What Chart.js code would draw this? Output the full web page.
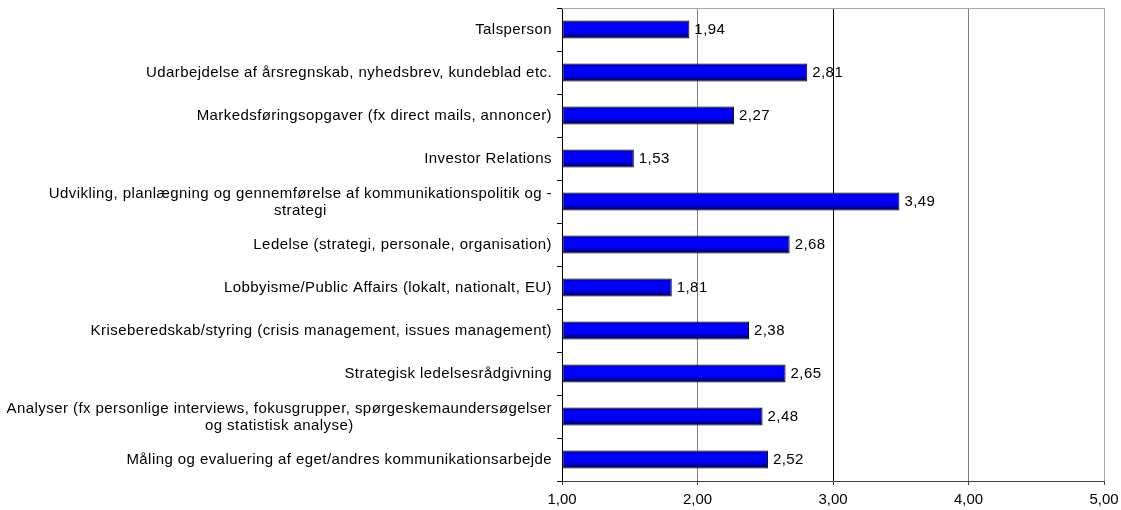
<!DOCTYPE html>
<html>
<head>
<meta charset="utf-8">
<script src="https://cdn.jsdelivr.net/npm/chart.js@4/dist/chart.umd.min.js"></script>
<style>
html,body{margin:0;padding:0;background:#fff;}
#wrap{width:1121px;height:510px;position:relative;}
</style>
</head>
<body>
<div id="wrap"><canvas id="c"></canvas></div>
<script>
const categories = [
  "Talsperson",
  "Udarbejdelse af årsregnskab, nyhedsbrev, kundeblad etc.",
  "Markedsføringsopgaver (fx direct mails, annoncer)",
  "Investor Relations",
  ["Udvikling, planlægning og gennemførelse af kommunikationspolitik og -", "strategi"],
  "Ledelse (strategi, personale, organisation)",
  "Lobbyisme/Public Affairs (lokalt, nationalt, EU)",
  "Kriseberedskab/styring (crisis management, issues management)",
  "Strategisk ledelsesrådgivning",
  ["Analyser (fx personlige interviews, fokusgrupper, spørgeskemaundersøgelser", "og statistisk analyse)"],
  "Måling og evaluering af eget/andres kommunikationsarbejde"
];
const values = [1.94, 2.81, 2.27, 1.53, 3.49, 2.68, 1.81, 2.38, 2.65, 2.48, 2.52];
const xTicks = [1, 2, 3, 4, 5];

const FONT = '"Liberation Sans", Arial, sans-serif';
const FS = 15;
const LS = '0.43px';
const BAR_PCT = 0.42;
const fmt = v => v.toFixed(2).replace('.', ',');

const labelPlugin = {
  id: 'labels',
  afterDatasetsDraw(chart) {
    const ctx = chart.ctx;
    const ca = chart.chartArea;
    ctx.save();
    // top border
    ctx.strokeStyle = '#a8a8a8';
    ctx.lineWidth = 1;
    ctx.beginPath();
    ctx.moveTo(ca.left, ca.top + 0.5);
    ctx.lineTo(ca.right, ca.top + 0.5);
    ctx.stroke();
    ctx.letterSpacing = LS;
    // value labels
    ctx.font = FS + 'px ' + FONT;
    ctx.fillStyle = '#000';
    ctx.textBaseline = 'middle';
    ctx.textAlign = 'left';
    const meta = chart.getDatasetMeta(0);
    meta.data.forEach((el, i) => {
      ctx.fillText(fmt(values[i]), el.x + 5, el.y + 0.5);
    });
    // category labels
    const s = chart.scales.y;
    categories.forEach((lab, i) => {
      const lines = Array.isArray(lab) ? lab : [lab];
      const w = Math.max(...lines.map(l => ctx.measureText(l).width));
      const cx = s.right - 10 - w / 2;
      const y = s.getPixelForValue(i);
      const lh = 17;
      ctx.textAlign = 'center';
      lines.forEach((l, j) => {
        ctx.fillText(l, cx, y + 0.5 + (j - (lines.length - 1) / 2) * lh);
      });
    });
    ctx.letterSpacing = '0px';
    ctx.restore();
  }
};

const gridColors = {1: 'rgba(0,0,0,0)', 2: '#808080', 3: '#000000', 4: '#808080', 5: '#a8a8a8'};

new Chart(document.getElementById('c'), {
  type: 'bar',
  data: {
    labels: categories,
    datasets: [{
      data: values,
      base: 1,
      borderColor: '#000',
      borderWidth: 1,
      borderSkipped: false,
      barPercentage: BAR_PCT,
      categoryPercentage: 1,
      backgroundColor: (c) => {
        const chart = c.chart;
        const ca = chart.chartArea;
        if (!ca || !chart.scales.y) return '#0000ff';
        const y = chart.scales.y.getPixelForValue(c.dataIndex);
        const h = (ca.bottom - ca.top) / categories.length * BAR_PCT;
        const g = chart.ctx.createLinearGradient(0, y - h / 2, 0, y + h / 2);
        g.addColorStop(0, '#000060');
        g.addColorStop(0.15, '#0000e8');
        g.addColorStop(0.35, '#0000ff');
        g.addColorStop(0.65, '#0000f4');
        g.addColorStop(1, '#000048');
        return g;
      }
    }]
  },
  options: {
    indexAxis: 'y',
    responsive: true,
    maintainAspectRatio: false,
    animation: false,
    devicePixelRatio: 1,
    layout: {padding: {top: 8, right: 17, left: 0, bottom: 0}},
    plugins: {legend: {display: false}, tooltip: {enabled: false}},
    scales: {
      x: {
        min: 1, max: 5,
        afterBuildTicks: (s) => { s.ticks = xTicks.map(v => ({value: v})); },
        afterFit: (s) => { s.height = 29; s.paddingLeft = 0; s.paddingRight = 0; },
        border: {display: true, color: '#404040', width: 1},
        grid: {
          color: (c) => gridColors[c.tick ? c.tick.value : 1] || '#808080',
          lineWidth: 1,
          drawTicks: true,
          tickLength: 4,
          tickColor: '#404040'
        },
        ticks: {
          font: {family: FONT, size: FS},
          color: '#000',
          padding: 6,
          maxRotation: 0,
          callback: (v) => fmt(v)
        }
      },
      y: {
        afterFit: (s) => { s.width = 562; s.paddingTop = 0; s.paddingBottom = 0; },
        border: {display: true, color: '#000', width: 1},
        grid: {
          offset: true,
          drawOnChartArea: false,
          drawTicks: true,
          tickLength: 5,
          tickColor: '#000'
        },
        ticks: {display: false}
      }
    }
  },
  plugins: [labelPlugin]
});
</script>
</body>
</html>
